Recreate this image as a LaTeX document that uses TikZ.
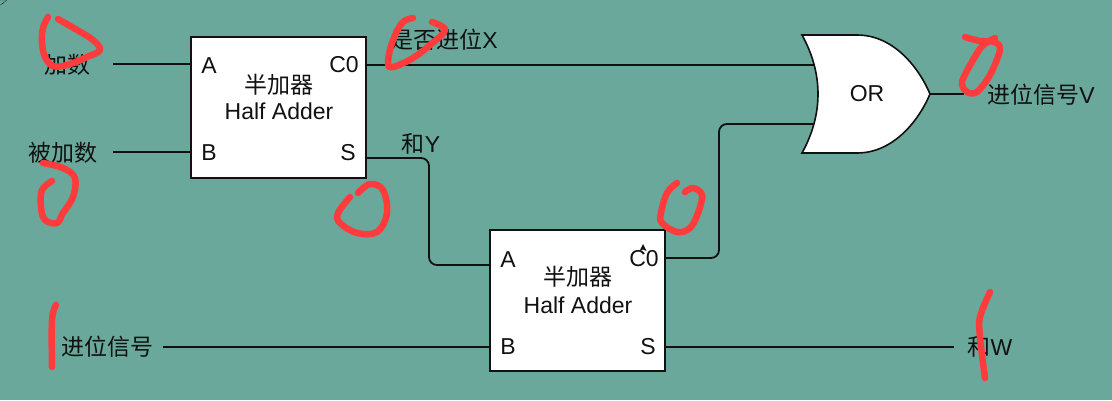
\documentclass[tikz,border=0pt]{standalone}
\usepackage{fontspec}
\setmainfont{Liberation Sans}
\newfontfamily\cjk{Noto Sans CJK SC}
\definecolor{bgteal}{HTML}{6AA89C}
\definecolor{inkblack}{HTML}{111111}
\definecolor{scribble}{HTML}{FF3B3B}
\tikzset{
  txt/.style={inner sep=0pt,text=inkblack,font=\fontsize{23}{26}\selectfont},
  adder/.style={draw=inkblack,fill=white,line width=2pt,minimum width=175pt,minimum height=141pt,inner sep=0pt,outer sep=0pt,align=center},
  wire/.style={draw=inkblack,line width=1.8pt},
  thinwire/.style={draw=inkblack,line width=1.2pt},
  bentwire/.style={wire,rounded corners=8pt},
  redmark/.style={draw=scribble,line width=6.5pt,line cap=round,line join=round}
}
\begin{document}
\begin{tikzpicture}[x=1pt,y=-1pt]
\useasboundingbox (0,0) rectangle (1112,400);
\fill[bgteal] (0,0) rectangle (1112,400);
\fill[inkblack] (0,0) rectangle (7,0) -- (7,0) -- (3,3.5) -- (0,5) -- cycle;

% free wire ends and ports
\coordinate (inA) at (113,64);
\coordinate (inB) at (113,152);
\coordinate (inC) at (163,347);
\coordinate (gateA) at (814,65);
\coordinate (gateB) at (814,124);
\coordinate (gateOut) at (930,94);
\coordinate (outV) at (964,94);
\coordinate (outW) at (954,347);
\coordinate (a1) at (191,64);
\coordinate (b1) at (191,152);
\coordinate (c1) at (367,65);
\coordinate (s1) at (367,158);
\coordinate (a2) at (490,265);
\coordinate (b2) at (490,347);
\coordinate (c2) at (666,258);
\coordinate (s2) at (666,347);
\coordinate (midS) at (429,212);
\coordinate (midC) at (719,190);

% connectors
\draw[wire] (inA) -- (a1);
\draw[thinwire] (inB) -- (b1);
\draw[wire] (c1) -- (gateA);
\draw[bentwire] (s1) -| (midS) |- (a2);
\draw[bentwire] (c2) -| (midC) |- (gateB);
\draw[wire] (inC) -- (b2);
\draw[wire] (s2) -- (outW);
\draw[wire] (gateOut) -- (outV);

% half adders
\node[adder] (ha1) at (278.7,107) {};
\node[adder] (ha2) at (577.7,300) {};

% OR gate
\filldraw[draw=inkblack,fill=white,line width=1.6pt,line join=miter]
  (802,35) -- (857,35) .. controls (895,35) and (920,70) .. (930,94)
  .. controls (920,118) and (895,153) .. (857,153) -- (802,153)
  .. controls (812,135) and (818,115) .. (818,94)
  .. controls (818,73) and (812,53) .. (802,35) -- cycle;
\node[txt] (orlabel) at (867,94) {OR};

% labels in half adder 1
\node[txt] (ha1a) at (209,66) {A};
\node[txt] (ha1c) at (344,65) {C0};
\node[txt] (ha1t) at (279,85) {\cjk 半加器};
\node[txt] (ha1e) at (279,111) {Half Adder};
\node[txt] (ha1b) at (209,153) {B};
\node[txt] (ha1s) at (348,153) {S};

% labels in half adder 2
\node[txt] (ha2a) at (508,260) {A};
\node[txt] (ha2c) at (644,259) {C0};
\node[txt] (ha2t) at (578,277) {\cjk 半加器};
\node[txt] (ha2e) at (578,305) {Half Adder};
\node[txt] (ha2b) at (508,347) {B};
\node[txt] (ha2s) at (648,347) {S};
\fill[inkblack] (643,244) -- (646.5,251) -- (643,249.5) -- (639.5,251) -- cycle;

% outer labels
\node[txt] (l1) at (67,65) {\cjk 加数};
\node[txt] (l2) at (63,153) {\cjk 被加数};
\node[txt] (l3) at (444,40) {{\cjk 是否进位}X};
\node[txt] (l4) at (421,144) {{\cjk 和}Y};
\node[txt] (l5) at (1041,95) {{\cjk 进位信号}V};
\node[txt] (l6) at (107,347) {\cjk 进位信号};
\node[txt] (l7) at (990,347) {{\cjk 和}W};

% red marks
\draw[redmark] plot[smooth,tension=0.6] coordinates {(48,17) (43,28) (42,43) (45,57) (53,66) (67,65) (87,57) (100,50) (93,40) (77,30) (58,19)};
\draw[redmark] plot[smooth,tension=0.6] coordinates {(43,163) (63,168) (75,178) (73,197) (63,213) (57,223) (45,220) (41,207) (42,190) (52,181)};
\draw[redmark] plot[smooth,tension=0.6] coordinates {(358,193) (370,184) (383,190) (387,213) (377,232) (357,233) (340,223) (338,213) (350,197)};
\draw[redmark] plot[smooth,tension=0.6] coordinates {(413,18) (402,23) (392,43) (388,63) (393,67) (413,58) (430,45) (445,30) (432,22)};
\draw[redmark] plot[smooth,tension=0.6] coordinates {(677,183) (667,193) (661,213) (662,223) (677,232) (690,228) (698,213) (702,195) (693,188) (685,192)};
\draw[redmark] plot[smooth,tension=0.5] coordinates {(965,37) (980,41) (995,42) (1000,50) (990,75) (977,92) (967,92) (962,82) (973,60) (983,45) (995,38)};
\draw[redmark] plot[smooth,tension=0.6] coordinates {(56,305) (52,320) (52,367)};
\draw[redmark] plot[smooth,tension=0.6] coordinates {(990,292) (980,317) (980,337) (985,378)};
\end{tikzpicture}
\end{document}
